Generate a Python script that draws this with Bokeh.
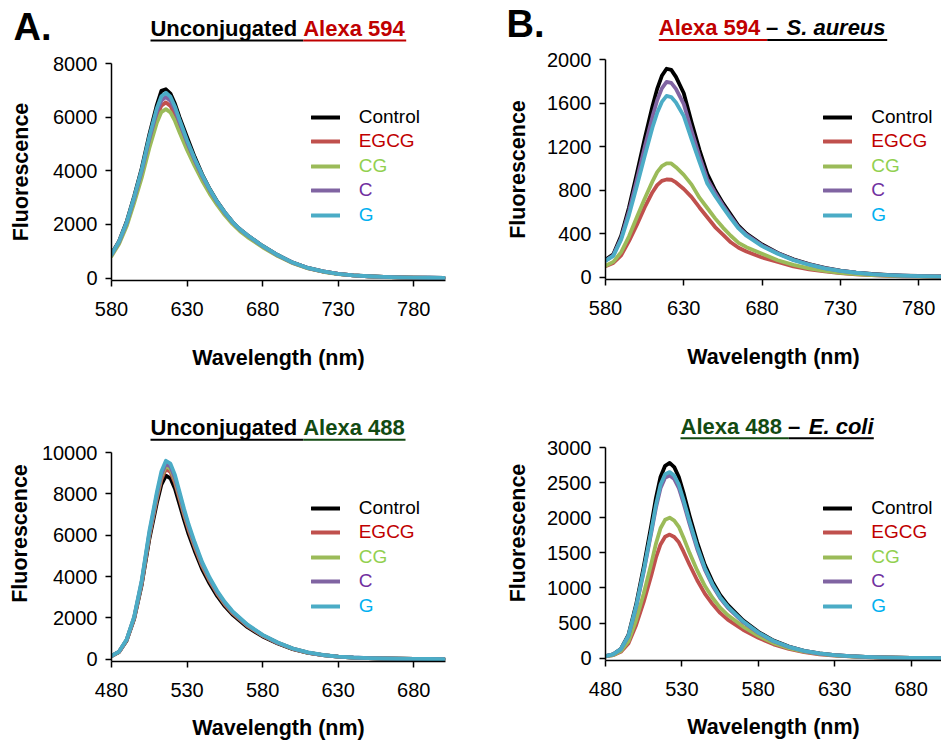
from bokeh.plotting import figure
from bokeh.models import Range1d, FixedTicker, Label, BoxAnnotation, Legend, LegendItem
from bokeh.layouts import column, row
from bokeh.embed import file_html
from bokeh.resources import INLINE

# ---------------- data ----------------
series_names = ["Control", "EGCG", "CG", "C", "G"]
line_colors = ["#000000", "#C0504D", "#9BBB59", "#8064A2", "#4BACC6"]
legend_text_colors = ["#000000", "#C00000", "#92D050", "#7030A0", "#00B0F0"]

wl_594 = [580, 585, 590, 595, 600, 605, 610, 613, 616, 619, 622, 625, 630, 635, 640, 645, 650,
          655, 660, 665, 670, 680, 690, 700, 710, 720, 730, 740, 750, 760, 770, 780, 790, 800]
wl_488 = [480, 485, 490, 495, 500, 505, 510, 513, 516, 519, 522, 525, 528, 531, 535, 540, 545,
          550, 555, 560, 570, 580, 590, 600, 610, 620, 630, 640, 650, 660, 670, 680, 690, 700]

# Panel A top: unconjugated Alexa 594
a594_control = [900, 1380, 2100, 3050, 4100, 5350, 6450, 6980, 7040, 6880, 6500, 6000, 5250, 4520, 3870, 3320, 2850,
                2450, 2100, 1820, 1600, 1200, 860, 580, 380, 250, 160, 105, 70, 45, 30, 20, 14, 10]
a594_egcg = [860, 1330, 2010, 2910, 3880, 5030, 6010, 6430, 6550, 6420, 6090, 5650, 4950, 4320, 3740, 3230, 2790,
             2400, 2070, 1790, 1570, 1180, 840, 570, 370, 245, 156, 103, 68, 44, 29, 19, 13, 9]
a594_cg = [820, 1270, 1930, 2800, 3740, 4840, 5790, 6190, 6300, 6180, 5860, 5440, 4780, 4180, 3630, 3140, 2720,
           2340, 2020, 1750, 1530, 1150, 820, 555, 360, 238, 152, 100, 66, 43, 28, 18, 12, 8]
a594_c = [870, 1350, 2050, 2970, 3980, 5170, 6190, 6620, 6750, 6610, 6260, 5800, 5060, 4400, 3800, 3280, 2820,
          2430, 2090, 1810, 1590, 1190, 850, 575, 375, 248, 158, 104, 69, 45, 30, 20, 14, 10]
a594_g = [880, 1370, 2080, 3020, 4050, 5270, 6330, 6780, 6910, 6760, 6390, 5910, 5140, 4460, 3850, 3310, 2840,
          2450, 2100, 1820, 1600, 1200, 860, 580, 380, 250, 160, 105, 70, 45, 30, 20, 14, 10]

# Panel B top: Alexa 594 - S. aureus
b594_control = [160, 210, 380, 640, 950, 1270, 1570, 1730, 1850, 1915, 1905, 1840, 1690, 1420, 1170, 950, 800,
                680, 575, 470, 400, 300, 222, 163, 120, 85, 60, 42, 29, 20, 14, 10, 7, 5]
b594_egcg = [100, 130, 200, 330, 480, 640, 780, 845, 885, 897, 895, 870, 810, 735, 640, 550, 460,
             390, 320, 270, 235, 180, 140, 98, 72, 52, 37, 26, 18, 12, 8, 6, 4, 3]
b594_cg = [105, 140, 230, 375, 550, 720, 880, 965, 1020, 1045, 1045, 1010, 940, 850, 730, 635, 540,
           455, 380, 315, 275, 215, 155, 112, 80, 57, 40, 28, 19, 13, 9, 6, 4, 3]
b594_c = [150, 200, 360, 605, 895, 1195, 1475, 1625, 1735, 1795, 1785, 1730, 1590, 1345, 1110, 900, 775,
          660, 555, 458, 390, 292, 219, 160, 117, 83, 58, 41, 28, 19, 13, 9, 6, 5]
b594_g = [150, 195, 345, 570, 835, 1110, 1375, 1510, 1610, 1665, 1655, 1605, 1480, 1265, 1060, 860, 745,
          640, 540, 447, 380, 285, 214, 156, 114, 81, 57, 40, 27, 19, 13, 9, 6, 4]

# Panel A bottom: unconjugated Alexa 488
a488_control = [150, 350, 900, 1950, 3600, 5800, 7550, 8450, 8880, 8750, 8250, 7500, 6750, 6050, 5250, 4350, 3650,
                3050, 2560, 2160, 1550, 1100, 760, 490, 310, 195, 125, 80, 52, 34, 22, 15, 10, 7]
a488_egcg = [150, 355, 920, 1990, 3680, 5930, 7750, 8700, 9200, 9060, 8530, 7760, 6980, 6260, 5430, 4500, 3780,
             3160, 2650, 2230, 1600, 1135, 785, 505, 318, 200, 127, 81, 53, 34, 22, 15, 10, 7]
a488_cg = [155, 360, 930, 2010, 3720, 6010, 7860, 8840, 9350, 9210, 8670, 7890, 7090, 6360, 5520, 4570, 3840,
           3210, 2690, 2270, 1630, 1155, 795, 512, 323, 202, 128, 82, 54, 35, 23, 15, 10, 7]
a488_c = [155, 365, 940, 2030, 3760, 6080, 7950, 8940, 9450, 9310, 8770, 7980, 7170, 6430, 5580, 4620, 3880,
          3240, 2720, 2290, 1645, 1165, 800, 515, 325, 203, 129, 83, 54, 35, 23, 15, 10, 7]
a488_g = [160, 370, 950, 2060, 3820, 6180, 8080, 9080, 9600, 9460, 8910, 8100, 7280, 6530, 5670, 4700, 3940,
          3300, 2770, 2330, 1670, 1180, 810, 520, 330, 205, 130, 84, 55, 36, 23, 15, 10, 7]

# Panel B bottom: Alexa 488 - E. coli
b488_control = [30, 55, 130, 330, 760, 1300, 1900, 2280, 2580, 2740, 2780, 2720, 2580, 2360, 2030, 1650, 1330,
                1090, 900, 760, 540, 375, 250, 165, 105, 68, 44, 29, 19, 12, 8, 5, 3, 2]
b488_egcg = [25, 42, 90, 210, 470, 800, 1180, 1430, 1620, 1730, 1760, 1725, 1650, 1520, 1330, 1110, 920,
             770, 645, 550, 405, 290, 197, 132, 86, 56, 37, 25, 16, 10, 7, 4, 3, 2]
b488_cg = [25, 45, 100, 240, 540, 920, 1350, 1630, 1850, 1970, 2000, 1960, 1870, 1720, 1500, 1250, 1030,
           860, 720, 615, 450, 318, 215, 143, 92, 60, 39, 26, 17, 11, 7, 5, 3, 2]
b488_c = [30, 55, 125, 315, 720, 1230, 1790, 2140, 2420, 2570, 2600, 2550, 2420, 2215, 1910, 1555, 1260,
          1035, 855, 720, 515, 360, 240, 160, 102, 66, 43, 28, 18, 12, 8, 5, 3, 2]
b488_g = [30, 55, 128, 320, 735, 1250, 1820, 2180, 2470, 2620, 2650, 2600, 2470, 2260, 1950, 1590, 1285,
          1055, 870, 735, 525, 365, 245, 162, 103, 67, 43, 28, 18, 12, 8, 5, 3, 2]

x_ticks_594 = [580, 630, 680, 730, 780]
x_ticks_488 = [480, 530, 580, 630, 680]
y_ticks_a594 = [0, 2000, 4000, 6000, 8000]
y_ticks_b594 = [0, 400, 800, 1200, 1600, 2000]
y_ticks_a488 = [0, 2000, 4000, 6000, 8000, 10000]
y_ticks_b488 = [0, 500, 1000, 1500, 2000, 2500, 3000]

RED = "#C00000"
DKGREEN = "#124A12"
FONT = "Liberation Sans"
BASELINE_FIX = 0.43  # empirical text-placement correction, in units of font size


def add_title(p, FL, FB, title_parts, underlines):
    """Title pieces and underlines given in page pixels, converted to frame screen coords."""
    for text, px, py, align, color, style in title_parts:
        p.add_layout(Label(x=px - FL, y=FB - (py - BASELINE_FIX * 22),
                           x_units="screen", y_units="screen", text=text,
                           text_align=align, text_baseline="alphabetic",
                           text_font=FONT, text_font_size="22px",
                           text_font_style=style, text_color=color))
    for x0, x1, yy, color in underlines:
        p.add_layout(BoxAnnotation(left=x0 - FL, right=x1 - FL,
                                   top=FB - yy + 1, bottom=FB - yy - 1,
                                   left_units="screen", right_units="screen",
                                   top_units="screen", bottom_units="screen",
                                   fill_color=color, fill_alpha=1, line_alpha=0))


def make_header(col_x, top, w, h, title_parts, underlines, letter):
    p = figure(width=w, height=h, output_backend="svg", toolbar_location=None,
               x_range=Range1d(0, 1), y_range=Range1d(0, 1),
               x_axis_type=None, y_axis_type=None, frame_align=False,
               min_border_left=0, min_border_right=0, min_border_top=0, min_border_bottom=0)
    p.outline_line_color = None
    p.grid.visible = False
    add_title(p, col_x, top + h, title_parts, underlines)
    text, lx, ly = letter
    p.add_layout(Label(x=lx - col_x, y=top + h - (ly - BASELINE_FIX * 38),
                       x_units="screen", y_units="screen",
                       text=text, text_align="left", text_baseline="alphabetic",
                       text_font=FONT, text_font_size="38px", text_font_style="bold",
                       text_color="black"))
    return p


def make_panel(fig_x, fig_y, w, h, FL, FR, FT, FB, frame_top, x_end, y_top, xticks, yticks,
               wl, series, ylab_standoff, xlab_standoff, leg_line_left, leg_text_left, leg_center0,
               title_parts=None, underlines=None):
    y_start = -0.011 * y_top
    px_per_unit = (FB - FT) / (y_top - y_start)
    y_end = y_top + (FT - frame_top) / px_per_unit
    p = figure(width=w, height=h, output_backend="svg", toolbar_location=None, frame_align=False,
               x_range=Range1d(xticks[0], x_end), y_range=Range1d(y_start, y_end),
               min_border_left=FL - fig_x, min_border_right=fig_x + w - FR,
               min_border_top=frame_top - fig_y, min_border_bottom=fig_y + h - FB)
    p.outline_line_color = None
    p.xgrid.visible = False
    p.ygrid.visible = False
    p.background_fill_color = "white"
    p.border_fill_color = "white"

    for ax in (p.xaxis[0], p.yaxis[0]):
        ax.axis_line_color = "black"
        ax.axis_line_width = 1.5
        ax.major_tick_line_color = "black"
        ax.major_tick_line_width = 1.5
        ax.major_tick_out = 6
        ax.major_tick_in = 0
        ax.minor_tick_out = 0
        ax.minor_tick_in = 0
        ax.major_label_text_font = FONT
        ax.major_label_text_font_size = "20px"
        ax.major_label_text_color = "black"
        ax.axis_label_text_font = FONT
        ax.axis_label_text_font_style = "bold"
        ax.axis_label_text_font_size = "21.5px"
        ax.axis_label_text_color = "black"
    p.xaxis[0].ticker = FixedTicker(ticks=xticks)
    p.yaxis[0].ticker = FixedTicker(ticks=yticks)
    p.yaxis[0].bounds = (y_start, y_top)
    p.xaxis[0].axis_label = "Wavelength (nm)"
    p.yaxis[0].axis_label = "Fluorescence"
    p.xaxis[0].major_label_standoff = 15
    p.xaxis[0].axis_label_standoff = xlab_standoff
    p.yaxis[0].major_label_standoff = 8
    p.yaxis[0].axis_label_standoff = ylab_standoff

    renderers = []
    for name, color, vals in zip(series_names, line_colors, series):
        r = p.line(wl, vals, line_color=color, line_width=3.8, line_join="round", line_cap="round")
        renderers.append(r)

    # one legend per entry so each label gets its own colour
    item_h = 26
    for i, (name, tcol, r) in enumerate(zip(series_names, legend_text_colors, renderers)):
        cy = leg_center0 + 24.6 * i
        leg = Legend(items=[LegendItem(label=name, renderers=[r])],
                     location=(leg_line_left - FL, FB - (cy + item_h / 2)),
                     padding=0, margin=0, spacing=0,
                     glyph_width=29, glyph_height=item_h, label_height=item_h,
                     label_standoff=int(round(leg_text_left - (leg_line_left + 29))),
                     label_text_font=FONT, label_text_font_size="19px",
                     label_text_color=tcol,
                     background_fill_alpha=0, border_line_alpha=0)
        p.add_layout(leg)

    if title_parts:
        add_title(p, FL, FB, title_parts, underlines)
    return p


# ---- left column (page x 0..498) ----
hA1 = make_header(0, 0, 498, 51,
                  [("Unconjugated", 296.6, 37.5, "right", "black", "bold"),
                   ("Alexa 594", 302.7, 37.5, "left", RED, "bold")],
                  [(150, 302.7, 40, "black"), (302.7, 405.7, 40, RED)], ("A.", 13, 43))
pA1 = make_panel(0, 51, 498, 341, 111, 445, 63, 280, 63, 801, 8000, x_ticks_594, y_ticks_a594, wl_594,
                 [a594_control, a594_egcg, a594_cg, a594_c, a594_g], 17, 27, 310.7, 358.3, 116.5)
pA2 = make_panel(0, 392, 498, 356, 111, 445, 452, 661, 405, 701, 10000, x_ticks_488, y_ticks_a488, wl_488,
                 [a488_control, a488_egcg, a488_cg, a488_c, a488_g], 7, 16, 310.7, 358.3, 507.5,
                 [("Unconjugated", 296.6, 436, "right", "black", "bold"),
                  ("Alexa 488", 302.7, 436, "left", DKGREEN, "bold")],
                 [(150, 302.7, 439.3, "black"), (302.7, 405, 439.3, DKGREEN)])

# ---- right column (page x 498..941) ----
hB1 = make_header(498, 0, 443, 48,
                  [("Alexa 594", 658.3, 36, "left", RED, "bold"),
                   ("\u2013", 765.5, 36, "left", "black", "bold"),
                   ("S. aureus", 786, 36, "left", "black", "bold italic")],
                  [(658.3, 766.7, 39.5, RED), (766.7, 886.7, 39.5, "black")], ("B.", 506, 40))
pB1 = make_panel(498, 48, 443, 344, 605, 941, 59, 279, 59, 794.6, 2000, x_ticks_594, y_ticks_b594, wl_594,
                 [b594_control, b594_egcg, b594_cg, b594_c, b594_g], 14, 27, 823.3, 871, 116.5)
pB2 = make_panel(498, 392, 443, 356, 605, 941, 447, 660, 405, 699.9, 3000, x_ticks_488, y_ticks_b488, wl_488,
                 [b488_control, b488_egcg, b488_cg, b488_c, b488_g], 14, 16, 823.3, 871, 507.5,
                 [("Alexa 488", 680, 435, "left", DKGREEN, "bold"),
                  ("\u2013", 787.5, 435, "left", "black", "bold"),
                  ("E. coli", 808.3, 435, "left", "black", "bold italic")],
                 [(680, 788.3, 437.7, DKGREEN), (788.3, 873.3, 437.7, "black")])

layout = row(column(hA1, pA1, pA2), column(hB1, pB1, pB2))
open("out.html", "w").write(file_html(layout, INLINE))
